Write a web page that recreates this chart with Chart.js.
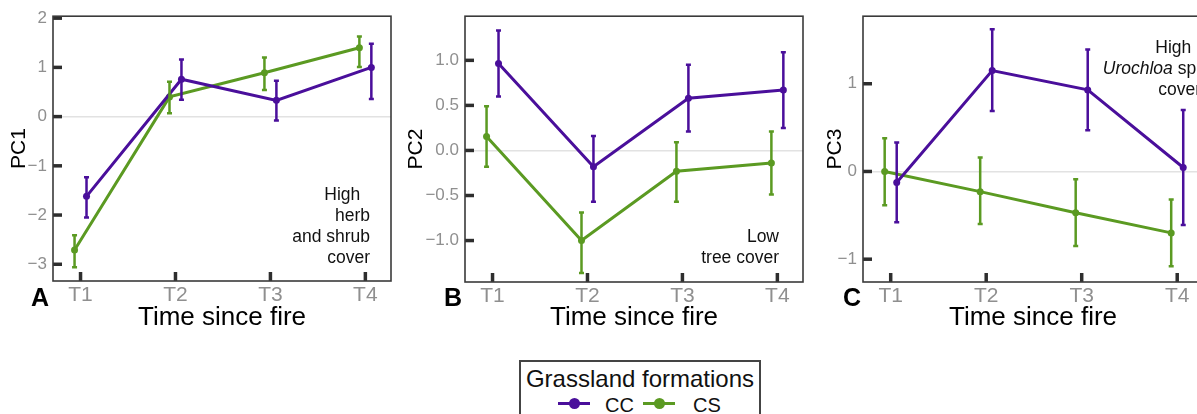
<!DOCTYPE html>
<html>
<head>
<meta charset="utf-8">
<script src="https://cdn.jsdelivr.net/npm/chart.js@4"></script>
<style>
  body { margin: 0; background: #fff; }
  #wrap { position: relative; width: 1197px; height: 414px; overflow: hidden; font-family: "Liberation Sans", Arial, sans-serif; }
  canvas { position: absolute; top: 0; }
  .legend-box { position: absolute; left: 519px; top: 360px; width: 242px; height: 70px; border: 2px solid #444; box-sizing: border-box; }
  .legend-title { position: absolute; left: 519px; top: 365px; width: 242px; text-align: center; font-size: 24px; line-height: 28px; color: #111; }
  .mk { position: absolute; height: 3px; width: 32px; top: 402px; }
  .mk::after { content: ''; position: absolute; left: 11px; top: -4px; width: 11px; height: 11px; border-radius: 50%; background: inherit; }
  .lt { position: absolute; top: 393px; font-size: 20px; line-height: 24px; color: #111; }
</style>
</head>
<body>
<div id="wrap">
  <canvas id="chartA" width="400" height="340" style="left:0px"></canvas>
  <canvas id="chartB" width="410" height="340" style="left:400px"></canvas>
  <canvas id="chartC" width="400" height="340" style="left:810px"></canvas>

  <div class="legend-box"></div>
  <div class="legend-title">Grassland formations</div>
  <span class="mk" style="left:558px;background:#4a0f9b"></span>
  <span class="lt" style="left:605px">CC</span>
  <span class="mk" style="left:643px;background:#5b9a22"></span>
  <span class="lt" style="left:693px">CS</span>
</div>

<script>
// --- data ---
const timeLabels = ['T1', 'T2', 'T3', 'T4'];

// PC1
const pc1CC     = [-1.62, 0.76, 0.33, 1.00];
const pc1CCLow  = [-2.05, 0.34, -0.08, 0.36];
const pc1CCHigh = [-1.23, 1.16, 0.73, 1.48];
const pc1CS     = [-2.71, 0.40, 0.89, 1.40];
const pc1CSLow  = [-3.06, 0.07, 0.54, 1.01];
const pc1CSHigh = [-2.41, 0.71, 1.20, 1.63];
const pc1Ticks = [-3, -2, -1, 0, 1, 2];
const pc1TickLabels = ['−3', '−2', '−1', '0', '1', '2'];

// PC2
const pc2CC     = [0.965, -0.18, 0.58, 0.67];
const pc2CCLow  = [0.60, -0.57, 0.21, 0.25];
const pc2CCHigh = [1.33, 0.16, 0.95, 1.09];
const pc2CS     = [0.155, -1.00, -0.23, -0.14];
const pc2CSLow  = [-0.18, -1.36, -0.57, -0.49];
const pc2CSHigh = [0.49, -0.69, 0.09, 0.21];
const pc2Ticks = [-1, -0.5, 0, 0.5, 1];
const pc2TickLabels = ['−1.0', '−0.5', '0.0', '0.5', '1.0'];

// PC3
const pc3CC     = [-0.125, 1.15, 0.93, 0.045];
const pc3CCLow  = [-0.58, 0.69, 0.47, -0.61];
const pc3CCHigh = [0.33, 1.62, 1.39, 0.70];
const pc3CS     = [0.00, -0.23, -0.47, -0.70];
const pc3CSLow  = [-0.385, -0.60, -0.85, -1.08];
const pc3CSHigh = [0.38, 0.16, -0.09, -0.32];
const pc3Ticks = [-1, 0, 1];
const pc3TickLabels = ['−1', '0', '1'];

const PURPLE = '#4a0f9b';
const GREEN = '#5b9a22';
const FONT = '"Liberation Sans", Arial, sans-serif';
const DODGE = 0.063;

// error bars, inward ticks, frame, panel letter and note
const panelDecor = {
    id: 'panelDecor',
    beforeDatasetsDraw(chart, args, opts) {
        const { ctx, chartArea: a, scales: { x, y } } = chart;
        ctx.save();
        ctx.strokeStyle = '#2e2e2e';
        ctx.lineWidth = 3.5;
        x.ticks.forEach(t => {
            const px = x.getPixelForValue(t.value);
            ctx.beginPath(); ctx.moveTo(px, a.bottom); ctx.lineTo(px, a.bottom - 9); ctx.stroke();
        });
        y.ticks.forEach(t => {
            const py = y.getPixelForValue(t.value);
            ctx.beginPath(); ctx.moveTo(a.left, py); ctx.lineTo(a.left + 9, py); ctx.stroke();
        });
        ctx.restore();
    },
    afterDatasetsDraw(chart) {
        const { ctx, scales: { y } } = chart;
        ctx.save();
        chart.data.datasets.forEach((ds, i) => {
            const meta = chart.getDatasetMeta(i);
            ctx.strokeStyle = ds.borderColor;
            ctx.lineWidth = 2.5;
            meta.data.forEach((pt, j) => {
                const top = y.getPixelForValue(ds.errHigh[j]);
                const bot = y.getPixelForValue(ds.errLow[j]);
                ctx.beginPath();
                ctx.moveTo(pt.x, top); ctx.lineTo(pt.x, bot);
                ctx.moveTo(pt.x - 2.5, top); ctx.lineTo(pt.x + 2.5, top);
                ctx.moveTo(pt.x - 2.5, bot); ctx.lineTo(pt.x + 2.5, bot);
                ctx.stroke();
            });
        });
        ctx.restore();
    },
    afterDraw(chart, args, opts) {
        const { ctx, chartArea: a } = chart;
        ctx.save();
        ctx.strokeStyle = '#3a3a3a';
        ctx.lineWidth = 1.6;
        ctx.strokeRect(a.left, a.top, a.right - a.left, a.bottom - a.top);

        ctx.fillStyle = '#000';
        ctx.font = 'bold 25px ' + FONT;
        ctx.textAlign = 'left';
        ctx.textBaseline = 'alphabetic';
        ctx.fillText(opts.letter, opts.letterX, 306);

        // note lines, right aligned; segments may be italic
        ctx.fillStyle = '#111';
        opts.note.forEach((line, k) => {
            let xr = opts.noteRight;
            const yb = opts.noteTop + k * 21;
            for (let s = line.length - 1; s >= 0; s--) {
                const [txt, italic] = line[s];
                ctx.font = (italic ? 'italic ' : '') + '17.5px ' + FONT;
                ctx.textAlign = 'right';
                ctx.fillText(txt, xr, yb);
                xr -= ctx.measureText(txt).width;
            }
        });
        ctx.restore();
    }
};

function makePanel(id, cfg) {
    const series = [
        { label: 'CC', vals: cfg.cc, low: cfg.ccLow, high: cfg.ccHigh, color: PURPLE, shift: DODGE },
        { label: 'CS', vals: cfg.cs, low: cfg.csLow, high: cfg.csHigh, color: GREEN, shift: -DODGE }
    ];
    new Chart(document.getElementById(id), {
        type: 'line',
        data: {
            datasets: series.map(s => ({
                label: s.label,
                data: s.vals.map((v, i) => ({ x: i + 1 + s.shift, y: v })),
                errLow: s.low,
                errHigh: s.high,
                borderColor: s.color,
                backgroundColor: s.color,
                borderWidth: 3,
                pointRadius: 3.5,
                pointBorderWidth: 0,
                tension: 0
            }))
        },
        options: {
            responsive: false,
            animation: false,
            layout: { padding: { top: 15, right: cfg.padRight, left: 0, bottom: 0 } },
            plugins: {
                legend: { display: false },
                tooltip: { enabled: false },
                panelDecor: cfg.decor
            },
            scales: {
                x: {
                    type: 'linear',
                    min: 0.71,
                    max: 4.27,
                    afterBuildTicks: sc => { sc.ticks = timeLabels.map((l, i) => ({ value: i + 1 })); },
                    afterFit: sc => { sc.height = cfg.xHeight; },
                    grid: { display: false, drawTicks: false },
                    border: { display: false },
                    ticks: {
                        callback: v => timeLabels[Math.round(v) - 1],
                        color: '#8f8f8f',
                        font: { family: FONT, size: 21 },
                        padding: 2,
                        maxRotation: 0
                    },
                    title: {
                        display: true,
                        text: 'Time since fire',
                        color: '#000',
                        font: { family: FONT, size: 26 },
                        padding: { top: 0, bottom: 7 }
                    }
                },
                y: {
                    min: cfg.yMin,
                    max: cfg.yMax,
                    afterBuildTicks: sc => { sc.ticks = cfg.ticks.map(v => ({ value: v })); },
                    afterFit: sc => { sc.width = cfg.yWidth; },
                    grid: {
                        drawTicks: false,
                        color: c => (c.tick && c.tick.value === 0 ? '#e2e2e2' : 'rgba(0,0,0,0)'),
                        lineWidth: 1.6
                    },
                    border: { display: false },
                    ticks: {
                        callback: (v, i) => cfg.tickLabels[i],
                        color: '#8f8f8f',
                        font: { family: FONT, size: 17 },
                        padding: 6
                    },
                    title: {
                        display: true,
                        text: cfg.yTitle,
                        color: '#000',
                        font: { family: FONT, size: 21 },
                        padding: { top: cfg.yTitlePad, bottom: 0 }
                    }
                }
            }
        },
        plugins: [panelDecor]
    });
}

makePanel('chartA', {
    cc: pc1CC, ccLow: pc1CCLow, ccHigh: pc1CCHigh,
    cs: pc1CS, csLow: pc1CSLow, csHigh: pc1CSHigh,
    ticks: pc1Ticks, tickLabels: pc1TickLabels,
    yMin: -3.34, yMax: 2.04, yTitle: 'PC1', yTitlePad: 7,
    yWidth: 53, padRight: 9, xHeight: 59,
    decor: {
        letter: 'A', letterX: 31, noteRight: 370, noteTop: 200,
        note: [[['High  ', false]], [['herb', false]], [['and shrub', false]], [['cover', false]]]
    }
});

makePanel('chartB', {
    cc: pc2CC, ccLow: pc2CCLow, ccHigh: pc2CCHigh,
    cs: pc2CS, csLow: pc2CSLow, csHigh: pc2CSHigh,
    ticks: pc2Ticks, tickLabels: pc2TickLabels,
    yMin: -1.46, yMax: 1.49, yTitle: 'PC2', yTitlePad: 3.5,
    yWidth: 65, padRight: 7, xHeight: 58,
    decor: {
        letter: 'B', letterX: 44, noteRight: 379, noteTop: 242,
        note: [[['Low', false]], [['tree cover', false]]]
    }
});

makePanel('chartC', {
    cc: pc3CC, ccLow: pc3CCLow, ccHigh: pc3CCHigh,
    cs: pc3CS, csLow: pc3CSLow, csHigh: pc3CSHigh,
    ticks: pc3Ticks, tickLabels: pc3TickLabels,
    yMin: -1.26, yMax: 1.77, yTitle: 'PC3', yTitlePad: 12.5,
    yWidth: 53, padRight: 7, xHeight: 58,
    decor: {
        letter: 'C', letterX: 33, noteRight: 391, noteTop: 53,
        note: [[['High  ', false]], [['Urochloa', true], [' sp.', false]], [['cover', false]]]
    }
});
</script>
</body>
</html>
